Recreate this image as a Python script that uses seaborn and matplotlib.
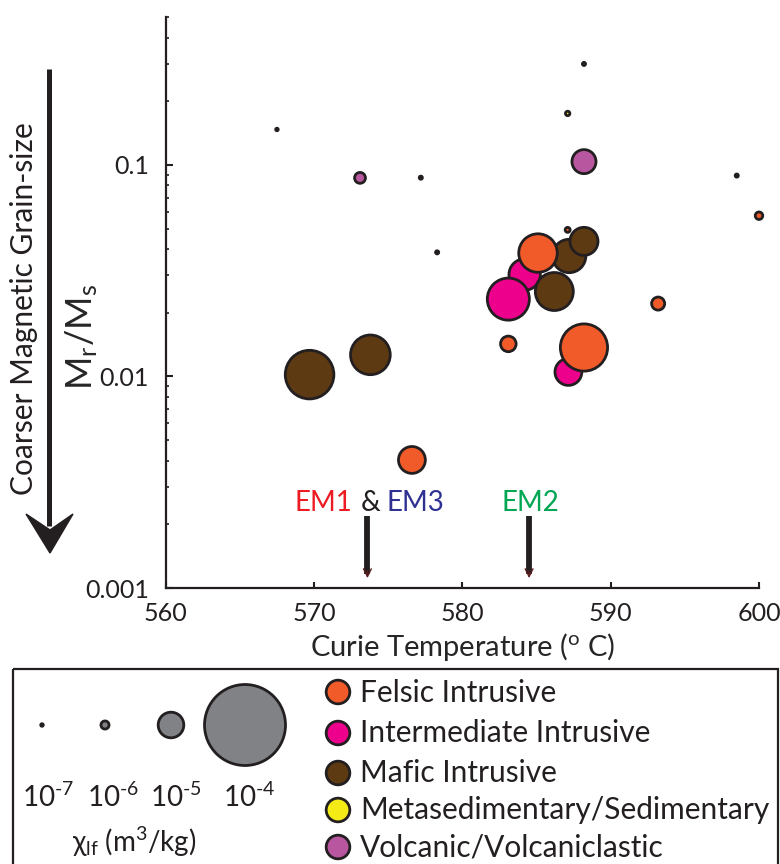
import matplotlib
matplotlib.use("Agg")
import matplotlib.pyplot as plt
import pandas as pd
import seaborn as sns
from matplotlib.patches import Polygon, Rectangle
from matplotlib.ticker import NullFormatter

# ---- data ----
curie_temp = [588.2, 567.5, 577.2, 598.5, 578.3, 587.1, 588.2, 573.1, 600.0,
              584.2, 583.1, 586.2, 587.2, 585.1, 588.2, 587.1, 587.15, 588.2,
              583.1, 593.2, 569.7, 573.8, 576.6]
mr_ms = [0.30, 0.147, 0.087, 0.089, 0.0386, 0.175, 0.1036, 0.0868, 0.0575,
         0.0303, 0.0232, 0.0252, 0.0371, 0.0383, 0.0435, 0.0493, 0.0105, 0.0137,
         0.01425, 0.0221, 0.0102, 0.01265, 0.00403]
chi_lf = [1.5e-7, 1e-7, 1.5e-7, 1.5e-7, 1.5e-7, 3e-7, 8.8e-6, 1.8e-6, 8.6e-7,
          1.5e-5, 2.7e-5, 2.2e-5, 1.7e-5, 2.26e-5, 1.2e-5, 3.8e-7, 1.1e-5, 3.4e-5,
          3.7e-6, 2.6e-6, 3.6e-5, 2.4e-5, 1.1e-5]
lithology = ['Mafic Intrusive'] * 5 + [
    'Metasedimentary/Sedimentary', 'Volcanic/Volcaniclastic', 'Volcanic/Volcaniclastic',
    'Felsic Intrusive', 'Intermediate Intrusive', 'Intermediate Intrusive',
    'Mafic Intrusive', 'Mafic Intrusive', 'Felsic Intrusive', 'Mafic Intrusive',
    'Felsic Intrusive', 'Intermediate Intrusive', 'Felsic Intrusive',
    'Felsic Intrusive', 'Felsic Intrusive', 'Mafic Intrusive', 'Mafic Intrusive',
    'Felsic Intrusive']

lith_order = ['Felsic Intrusive', 'Intermediate Intrusive', 'Mafic Intrusive',
              'Metasedimentary/Sedimentary', 'Volcanic/Volcaniclastic']
lith_colors = ['#F15A29', '#EC008C', '#5E3A13', '#F4EA15', '#B857A0']

legend_chi = [1e-7, 1e-6, 1e-5, 1e-4]
legend_chi_labels = ['10$^{\\text{-}7}$', '10$^{\\text{-}6}$',
                     '10$^{\\text{-}5}$', '10$^{\\text{-}4}$']

em_names = ['EM1', '&', 'EM3', 'EM2']
em_colors = ['#ED1C24', '#231F20', '#2E3192', '#00A651']
em_temps = [573.6, 584.5]
em_arrow_top = 0.0022
em_arrow_tip = 0.00108

EDGE = '#231F20'
SIZE_MAX = 3400

df = pd.DataFrame({'curie_temp': curie_temp, 'mr_ms': mr_ms,
                   'chi_lf': chi_lf, 'lithology': lithology})

sns.set_style('ticks')
plt.rcParams['font.family'] = ['Lato', 'DejaVu Sans']
plt.rcParams['mathtext.fontset'] = 'custom'
plt.rcParams['mathtext.rm'] = 'Lato'
plt.rcParams['mathtext.it'] = 'Lato:italic'
plt.rcParams['mathtext.bf'] = 'Lato:bold'
plt.rcParams['text.color'] = EDGE

W, H = 780, 864
fig = plt.figure(figsize=(W / 100, H / 100), dpi=100)
ax = fig.add_axes([165.7 / W, 1 - 588 / H, (759 - 165.7) / W, (588 - 17) / H])

sns.scatterplot(data=df, x='curie_temp', y='mr_ms', hue='lithology',
                hue_order=lith_order, palette=lith_colors, size='chi_lf',
                sizes=(0, SIZE_MAX), size_norm=(0, 1e-4), edgecolor=EDGE,
                linewidth=2.0, legend=False, clip_on=False, zorder=3, ax=ax)

ax.set_yscale('log')
ax.set_xlim(560, 600)
ax.set_ylim(0.001, 0.5)
ax.set_xticks([560, 570, 580, 590, 600])
ax.set_yticks([0.001, 0.01, 0.1])
ax.set_yticklabels(['0.001', '0.01', '0.1'])
ax.yaxis.set_minor_formatter(NullFormatter())
ax.tick_params(axis='both', which='major', direction='in', width=1.5,
               color=EDGE, labelsize=18, labelcolor=EDGE)
ax.tick_params(axis='y', which='major', length=5, pad=12)
ax.tick_params(axis='y', which='minor', direction='in', length=2.5, width=1.2, color=EDGE)
ax.tick_params(axis='x', which='major', length=4, pad=10)
for side in ['top', 'right']:
    ax.spines[side].set_visible(False)
for side in ['left', 'bottom']:
    ax.spines[side].set_linewidth(1.6)
    ax.spines[side].set_color(EDGE)

ax.set_xlabel('Curie Temperature ($^{\\mathrm{o}}$ C)', fontsize=21)
ax.xaxis.set_label_coords(0.5, -0.104)
ax.xaxis.label.set_va('center')
ax.set_ylabel('M$_{\\mathrm{r}}$/M$_{\\mathrm{s}}$', fontsize=26)
ax.yaxis.set_label_coords(-0.142, 0.44)
ax.yaxis.label.set_va('center')

# end-member arrows
for t in em_temps:
    ax.plot([t, t], [em_arrow_top, em_arrow_tip * 1.08], color=EDGE, lw=4.2,
            solid_capstyle='butt', zorder=2)
    ax.annotate('', xy=(t, em_arrow_tip), xytext=(t, em_arrow_tip * 1.15),
                arrowprops=dict(arrowstyle='->', color='#5a1c1c', lw=1.0,
                                mutation_scale=14))

# overlay in pixel coordinates for labels and legend
ov = fig.add_axes([0, 0, 1, 1])
ov.patch.set_alpha(0)

em_x = [323, 371, 415.5, 530]
for name, col, x in zip(em_names, em_colors, em_x):
    ov.text(x, 510.7, name, color=col, fontsize=20, ha='center', va='baseline')

# coarser grain-size arrow
ov.plot([49.2, 49.2], [69.3, 526], color=EDGE, lw=3.6, solid_capstyle='butt')
ov.add_patch(Polygon([(26, 514), (50, 553), (73, 514), (50, 530)],
                     closed=True, color=EDGE))
ov.text(24.5, 309, 'Coarser Magnetic Grain-size', rotation=90, fontsize=21.5,
        ha='center', va='center')

# legend box
ov.add_patch(Rectangle((12.7, 669), 765.5, 230, fill=False, lw=1.6,
                       edgecolor=EDGE, clip_on=False))

size_x = [42, 105, 171, 245]
sns.scatterplot(x=size_x, y=[725] * 4, size=legend_chi, sizes=(0, SIZE_MAX),
                size_norm=(0, 1e-4), color='#808285', edgecolor=EDGE,
                linewidth=2.0, legend=False, ax=ov)
label_x = [48, 113, 176, 249]
for x, lab in zip(label_x, legend_chi_labels):
    ov.text(x, 797, lab, fontsize=20, ha='center', va='center')
ov.text(134, 842, 'χ$_{\\mathrm{lf}}$ (m$^{3}$/kg)', fontsize=20,
        ha='center', va='center')

row_y = [692, 733, 773, 810, 847]
sns.scatterplot(x=[338] * 5, y=row_y, hue=lith_order, hue_order=lith_order,
                palette=lith_colors, s=290, edgecolor=EDGE, linewidth=2.0,
                legend=False, ax=ov)
for y, lab in zip(row_y, lith_order):
    ov.text(360, y + 9.5, lab, fontsize=21.5, ha='left', va='baseline')

ov.set_xlim(0, W)
ov.set_ylim(H, 0)
ov.axis('off')

fig.savefig('out.png', dpi=100)
